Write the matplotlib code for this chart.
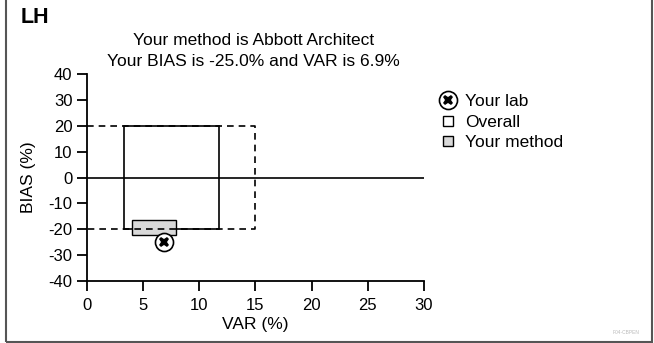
import matplotlib.pyplot as plt
from matplotlib.patches import Rectangle
from matplotlib.lines import Line2D
from matplotlib.legend_handler import HandlerTuple

plt.rcParams['font.family'] = ['Liberation Sans', 'DejaVu Sans']
plt.rcParams['axes.unicode_minus'] = False

# значения с картинки
analyte = 'LH'
method_name = 'Abbott Architect'
lab_var = 6.9
lab_bias = -25.0
overall_var = [3.3, 11.8]
overall_bias = [-20, 20]
method_var = [4.0, 7.9]
method_bias = [-22.1, -16.6]
limit_var = 15
limit_bias = [-20, 20]
x_ticks = [0, 5, 10, 15, 20, 25, 30]
y_ticks = [40, 30, 20, 10, 0, -10, -20, -30, -40]

fig = plt.figure(figsize=(6.54, 3.43), dpi=100)
ax = fig.add_axes([0.133, 0.181, 0.515, 0.603])

ax.set_xlim(0, 30)
ax.set_ylim(-40, 40)
ax.spines['top'].set_visible(False)
ax.spines['right'].set_visible(False)
ax.spines['left'].set_linewidth(1.3)
ax.spines['bottom'].set_linewidth(1.3)
ax.set_xticks(x_ticks)
ax.set_yticks(y_ticks)
ax.tick_params(direction='out', length=7.5, width=1.3, labelsize=12)
ax.tick_params(axis='x', pad=5)
ax.tick_params(axis='y', pad=3)
ax.set_xlabel('VAR (%)', fontsize=12.5, labelpad=3)
ax.set_ylabel('BIAS (%)', fontsize=12.5, labelpad=9)

# линия нуля
ax.plot([0, 30], [0, 0], color='black', lw=1.2, zorder=2)

# общий прямоугольник
ax.add_patch(Rectangle((overall_var[0], overall_bias[0]),
                       overall_var[1] - overall_var[0], overall_bias[1] - overall_bias[0],
                       facecolor='none', edgecolor='black', lw=1.2, zorder=3))
# прямоугольник метода
ax.add_patch(Rectangle((method_var[0], method_bias[0]),
                       method_var[1] - method_var[0], method_bias[1] - method_bias[0],
                       facecolor='#d9d9d9', edgecolor='black', lw=1.0, zorder=4))
# пределы пунктиром
ax.plot([0, limit_var, limit_var, 0], [limit_bias[1], limit_bias[1], limit_bias[0], limit_bias[0]],
        color='black', lw=1.2, ls=(0, (4, 3)), zorder=5, clip_on=False)

# ваша лаборатория
ax.plot(lab_var, lab_bias, marker='o', ms=13, mfc='white', mec='black', mew=1.2,
        ls='none', zorder=6, clip_on=False)
ax.plot(lab_var, lab_bias, marker='X', ms=7.5, color='black', mew=0,
        ls='none', zorder=7, clip_on=False)

h_lab = (Line2D([], [], marker='o', ms=13, mfc='white', mec='black', mew=1.2, ls='none'),
         Line2D([], [], marker='X', ms=7.5, color='black', mew=0, ls='none'))
h_over = Line2D([], [], marker='s', ms=7.5, mfc='white', mec='black', mew=1.0, ls='none')
h_meth = Line2D([], [], marker='s', ms=7.5, mfc='#d9d9d9', mec='black', mew=1.0, ls='none')
fig.legend([h_lab, h_over, h_meth], ['Your lab', 'Overall', 'Your method'],
           handler_map={tuple: HandlerTuple(ndivide=1, pad=0)},
           loc='upper left', bbox_to_anchor=(0.672, 0.725), frameon=False,
           fontsize=12.5, handlelength=1.0, handletextpad=0.45, labelspacing=0.3,
           borderaxespad=0, borderpad=0)

fig.text(0.032, 0.948, analyte, fontsize=15.5, fontweight='bold', va='center', ha='left')
fig.text(0.388, 0.883, f'Your method is {method_name}', fontsize=12.5, ha='center', va='center')
fig.text(0.388, 0.82, f'Your BIAS is {lab_bias:.1f}% and VAR is {lab_var:.1f}%',
         fontsize=12.5, ha='center', va='center')
fig.text(0.978, 0.03, 'F04-CBPEN', fontsize=3.5, color='#bbbbbb', ha='right', va='center')

# рамка вокруг рисунка
fig.patches.append(Rectangle((6 / 654, 1.5 / 343), 646 / 654, 1.1, transform=fig.transFigure,
                             facecolor='none', edgecolor='#555555', lw=1.5))

fig.savefig('out.png', dpi=100)
